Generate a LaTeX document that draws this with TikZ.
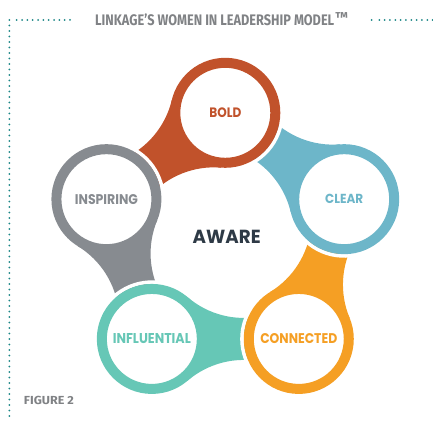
\documentclass[tikz,border=0pt]{standalone}
\usepackage{fontspec}
\setmainfont{Poppins}
\newfontfamily\condfont{Fira Sans}
\usepackage{graphicx}
\definecolor{cbold}{HTML}{C1522B}
\definecolor{cclear}{HTML}{6DB6C9}
\definecolor{cconn}{HTML}{F59F24}
\definecolor{cinfl}{HTML}{66C7B6}
\definecolor{cinsp}{HTML}{878B90}
\definecolor{caware}{HTML}{2E3A46}
\definecolor{cdots}{HTML}{1A8686}
\definecolor{ctitle}{HTML}{808285}
\newcommand\mylabel[3]{\resizebox{#1pt}{#2pt}{\bfseries #3}}
\newcommand\myweb[3]{\begin{scope}[shift={(#1)},rotate=#2]
  \fill[#3] (0,0) -- (35.79,41.76) arc[start angle=229.42,end angle=282,radius=86.34pt]
    -- (109.9,-22.89) arc[start angle=78,end angle=130.58,radius=86.34pt] -- cycle;
\end{scope}}
\newcommand\myhalo[2]{\begin{scope}[shift={(#1)},rotate=#2]
  \draw[white,line width=3.6pt] (146.95,0) ++(140:56.8) arc[start angle=140,end angle=220,radius=56.8pt];
\end{scope}}
\tikzset{
  ring/.style={circle, draw=#1, text=#1, line width=10pt, minimum size=100pt, fill=white, inner sep=0pt},
  dotline/.style={draw=cdots, line width=2pt, line cap=round, dash pattern=on 0pt off #1},
}
\begin{document}
\begin{tikzpicture}[x=1pt,y=1pt]
\useasboundingbox (0,0) rectangle (433,421);
% centres of the pentagon of rings
\coordinate (O) at (225.3,183.2);
\path (O) ++(90:125) coordinate (pbold);
\path (O) ++(162:125) coordinate (pinsp);
\path (O) ++(234:125) coordinate (pinfl);
\path (O) ++(306:125) coordinate (pconn);
\path (O) ++(18:125) coordinate (pclear);
% webs
\myweb{pbold}{216}{cbold}
\myweb{pinsp}{288}{cinsp}
\myweb{pinfl}{0}{cinfl}
\myweb{pconn}{72}{cconn}
\myweb{pclear}{144}{cclear}
% white gaps where webs meet the next ring
\myhalo{pbold}{216}
\myhalo{pinsp}{288}
\myhalo{pinfl}{0}
\myhalo{pconn}{72}
\myhalo{pclear}{144}
% rings
\node[ring=cbold] (bold) at (pbold) {\mylabel{32}{9.7}{BOLD}};
\node[ring=cinsp] (insp) at (pinsp) {\mylabel{63}{10}{INSPIRING}};
\node[ring=cinfl] (infl) at (pinfl) {\mylabel{78}{10}{INFLUENTIAL}};
\node[ring=cconn] (conn) at (pconn) {\mylabel{77}{10}{CONNECTED}};
\node[ring=cclear] (clear) at (pclear) {\mylabel{38}{9.3}{CLEAR}};
\node[inner sep=0pt, text=caware] (aware) at (226.7,183.7) {\mylabel{68}{13.3}{AWARE}};
% title and figure caption
\node[anchor=west, inner sep=0pt, text=ctitle] (title) at (95,401.2) {\resizebox{239pt}{11.7pt}{\condfont\bfseries LINKAGE’S WOMEN IN LEADERSHIP MODEL}};
\node[anchor=north west, inner sep=0pt, text=ctitle] (tm) at ([xshift=0.5pt,yshift=1.2pt]title.north east) {\resizebox{13pt}{!}{\condfont\bfseries ™}};
\node[inner sep=0pt, text=ctitle] (fig) at (49,20.5) {\resizebox{50pt}{8.3pt}{\condfont\bfseries FIGURE 2}};
% dotted frame
\coordinate (c0) at (9.3,401);
\coordinate (c1) at (16.7,401);
\coordinate (c2) at (70,401);
\coordinate (c3) at (9.3,5);
\coordinate (c4) at (371.7,401);
\coordinate (c5) at (379.3,401);
\coordinate (c6) at (432.6,401);
\draw[dotline=5.33pt] (c1) -- (c2);
\draw[dotline=5.5pt] (c0) -- (c3);
\draw[dotline=5.33pt] (c5) -- (c6);
\draw[dotline=8pt] (c4) -- ++(1,0);
\end{tikzpicture}
\end{document}
